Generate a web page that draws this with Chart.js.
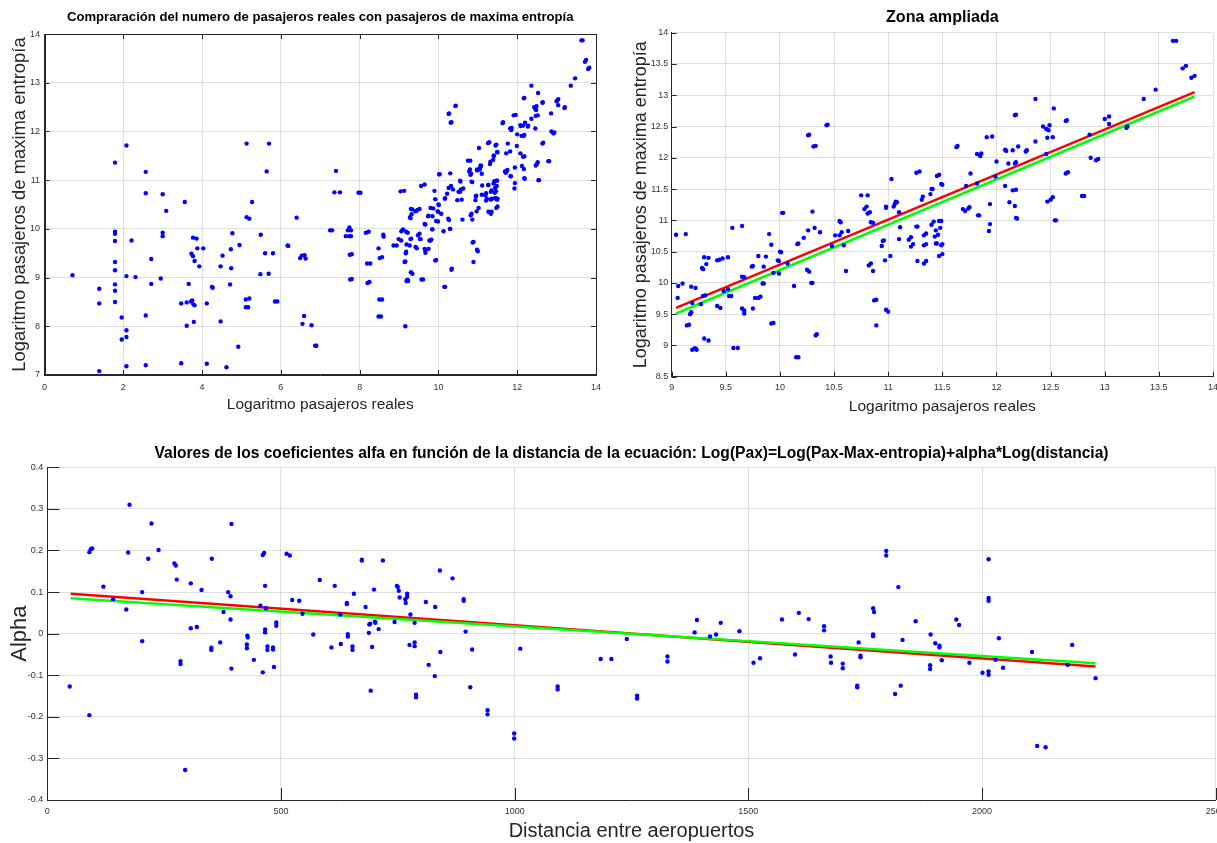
<!DOCTYPE html>
<html>
<head>
<meta charset="utf-8">
<title>Pasajeros reales, maxima entropia y coeficientes alfa</title>
<script src="https://cdn.jsdelivr.net/npm/chart.js@4.4.1/dist/chart.umd.min.js"></script>
<style>
	html, body { margin: 0; padding: 0; background: #fff; overflow: hidden; width: 1217px; height: 843px; }
	canvas { position: absolute; }
</style>
</head>
<body>
<canvas id="chartComparacion" width="612" height="422" style="left:0;top:0"></canvas>
<canvas id="chartZona" width="630" height="422" style="left:612px;top:0"></canvas>
<canvas id="chartAlpha" width="1240" height="423" style="left:0;top:420px"></canvas>
<script>
// Valores.
// Logaritmo de pasajeros reales (x) y de maxima entropia (y), mismo orden.
var paxReales = [0.71, 1.39, 1.39, 1.39, 1.79, 1.79, 1.79, 1.79, 1.79, 1.79, 1.79, 1.79, 1.79, 1.96, 1.96,
	2.08, 2.08, 2.08, 2.08, 2.08, 2.21, 2.31, 2.57, 2.57, 2.57, 2.57, 2.71, 2.71, 2.95, 3.0, 3.0, 3.0, 3.09,
	3.47, 3.47, 3.56, 3.61, 3.61, 3.66, 3.73, 3.72, 3.75, 3.77, 3.77, 3.78, 3.81, 3.79, 3.81, 3.86, 3.88, 3.93,
	4.03, 4.12, 4.12, 4.25, 4.27, 4.47, 4.47, 4.52, 4.62, 4.71, 4.73, 4.74, 4.77, 4.92, 4.95, 5.13, 5.13, 5.2,
	5.11, 5.2, 5.11, 5.17, 5.27, 5.48, 5.49, 5.6, 5.64, 5.69, 5.7, 5.8, 5.85, 5.91, 6.17, 6.19, 6.4, 6.49,
	6.53, 6.6, 6.63, 6.55, 6.59, 6.78, 6.87, 6.9, 7.25, 7.3, 7.36, 7.4, 7.5, 7.65, 7.74, 7.78, 7.7, 7.74,
	7.78, 7.75, 7.8, 7.76, 7.8, 7.97, 8.02, 8.16, 8.23, 8.19, 8.27, 8.2, 8.25, 8.48, 8.51, 8.57, 8.5, 8.57,
	8.48, 8.54, 8.6, 8.61, 8.86, 8.94, 8.99, 9.16,
	9.04, 9.055, 9.06, 9.1, 9.13, 9.14, 9.16, 9.17, 9.18, 9.18, 9.19, 9.19, 9.21, 9.22, 9.23, 9.22, 9.27,
	9.28, 9.29, 9.29, 9.3, 9.3, 9.32, 9.31, 9.34, 9.34, 9.42, 9.45, 9.42, 9.44, 9.47, 9.48, 9.52, 9.52, 9.53,
	9.55, 9.56, 9.57, 9.61, 9.65, 9.65, 9.67, 9.65, 9.67, 9.67, 9.74, 9.75, 9.75, 9.77, 9.8, 9.82, 9.8, 9.84,
	9.85, 9.85, 9.87, 9.9, 9.92, 9.92, 9.94, 9.94, 9.98, 9.99, 9.99, 10.0, 10.01, 10.02, 10.03, 10.07, 10.13,
	10.15, 10.17, 10.16, 10.17, 10.22, 10.25, 10.27, 10.26, 10.26, 10.27, 10.29, 10.3, 10.3, 10.31, 10.33,
	10.32, 10.33, 10.34, 10.37, 10.43, 10.44, 10.48, 10.51, 10.55, 10.55, 10.56, 10.57, 10.59, 10.61, 10.63,
	10.75, 10.78, 10.8, 10.81, 10.81, 10.83, 10.82, 10.84, 10.84, 10.86, 10.86, 10.87, 10.89, 10.89, 10.94,
	10.95, 10.96, 10.97, 10.98, 10.98, 10.98, 11.0, 11.02, 11.03, 11.05, 11.06, 11.07, 11.08, 11.1, 11.1, 11.11,
	11.19, 11.21, 11.21, 11.23, 11.26, 11.29, 11.26, 11.27, 11.27, 11.31, 11.32, 11.33, 11.35, 11.33, 11.35,
	11.33, 11.35, 11.39, 11.4, 11.41, 11.4, 11.42, 11.43, 11.44, 11.45, 11.44, 11.45, 11.47, 11.46, 11.47,
	11.49, 11.48, 11.47, 11.5, 11.49, 11.5, 11.49, 11.5, 11.63, 11.64, 11.69, 11.71, 11.72, 11.74, 11.75,
	11.76, 11.82, 11.85, 11.86, 11.82, 11.83, 11.84, 11.91, 11.93, 11.94, 11.94, 11.96, 11.99, 12.0, 12.08,
	12.09, 12.08, 12.11, 12.12, 12.15, 12.15, 12.17, 12.18, 12.17, 12.18, 12.17, 12.18, 12.18, 12.19, 12.2,
	12.27, 12.28, 12.36, 12.36, 12.43, 12.46, 12.48, 12.47, 12.46, 12.47, 12.49, 12.5, 12.52, 12.53, 12.52,
	12.54, 12.55, 12.64, 12.65, 12.64, 12.66, 12.79, 12.81, 12.86, 12.87, 12.92, 12.94, 13.0, 13.04, 13.04,
	13.2, 13.21, 13.36, 13.47, 13.63, 13.66, 13.72, 13.75, 13.8, 13.83];
var paxMaxEntropia = [9.05, 8.77, 8.47, 7.08, 11.36, 9.94, 9.9, 9.75, 9.32, 9.15, 8.86, 8.73, 8.5, 8.18, 7.73,
	11.71, 9.03, 7.92, 7.78, 7.18, 9.76, 9.01, 11.17, 10.73, 8.22, 7.2, 9.38, 8.87, 8.98, 10.71, 9.92, 9.85, 10.37,
	8.47, 7.24, 10.55, 8.49, 8.01, 8.87, 9.49, 8.51, 8.53, 9.82, 9.44, 8.45, 8.43, 8.09, 9.34, 9.8, 9.6, 9.23,
	9.6, 8.47, 7.23, 8.81, 8.79, 9.23, 8.1, 9.45, 7.16, 8.86, 9.58, 9.19, 9.91, 7.58, 9.67, 11.75, 10.24, 10.21,
	8.55, 8.57, 8.39, 8.39, 10.55, 9.07, 9.88, 9.5, 11.18, 9.08, 11.75, 9.5, 8.51, 8.51, 9.66, 9.65, 10.23, 9.4,
	9.45, 9.46, 9.39, 8.05, 8.21, 8.02, 7.6, 7.6, 9.97, 9.97, 10.75, 11.19, 10.75, 9.85, 9.85, 9.85, 9.97, 10.03,
	9.97, 9.47, 9.48, 8.96, 8.97, 10.74, 10.74, 9.92, 9.94, 9.29, 9.29, 8.89, 8.91, 9.6, 9.4, 9.42, 8.55, 8.55,
	8.2, 8.2, 9.88, 9.84, 9.66, 9.66, 9.79, 8.0,
	10.77, 9.76, 9.95, 9.99, 10.78, 9.32, 9.33, 9.5, 9.53, 9.94, 9.68, 8.93, 8.95, 8.95, 8.93, 9.92, 9.66,
	10.24, 10.22, 9.79, 9.11, 10.41, 10.3, 9.8, 10.4, 9.08, 9.63, 9.6, 10.36, 10.37, 10.39, 9.87, 10.41, 9.9, 9.79,
	9.79, 10.88, 8.96, 8.96, 10.91, 10.1, 10.09, 9.59, 9.56, 9.51, 10.26, 10.27, 9.59, 9.76, 9.76, 9.78, 10.43, 9.99,
	9.99, 10.26, 10.42, 10.78, 10.61, 9.35, 9.36, 10.16, 10.36, 10.35, 10.15, 10.5, 10.49, 11.12, 11.12, 10.31, 9.95,
	8.81, 8.81, 10.62, 10.63, 10.72, 10.21, 10.18, 10.84, 12.36, 12.37, 10.0, 10.0, 11.14, 12.18, 12.19,
	10.88, 9.16, 9.18, 10.81, 12.52, 12.53, 10.59, 10.76, 10.76, 10.99, 10.97, 10.81, 10.6, 10.19, 10.83,
	11.4, 11.18, 11.22, 11.4, 11.11, 11.13, 10.28, 10.31, 10.97, 10.96, 10.19, 9.72, 9.73, 9.32, 10.59,
	10.67, 10.68, 10.36, 11.22, 11.2, 9.57, 9.54, 10.43, 11.66, 11.22, 11.26, 11.3, 11.29, 11.13, 10.7, 10.89,
	10.69, 10.73, 10.58, 10.62, 11.76, 11.78, 10.9, 10.9, 10.35, 11.33, 11.38, 10.31, 10.35, 10.76, 10.79,
	10.6, 10.62, 11.42, 11.5, 11.5, 10.93, 10.98, 10.74, 10.63, 10.63, 10.84, 11.71, 11.73, 10.77, 10.99,
	10.99, 10.88, 10.43, 10.46, 10.6, 10.62, 11.58, 11.57, 12.17, 12.19, 11.18, 11.15, 11.55, 11.19, 11.21,
	11.75, 12.06, 12.03, 12.07, 11.59, 11.08, 11.08, 12.33, 10.83, 11.26, 10.94, 12.34, 11.7, 11.94, 12.13,
	12.11, 11.55, 11.91, 11.29, 11.48, 12.12, 12.68, 12.69, 11.91, 11.93, 11.23, 11.49, 11.04, 11.03, 12.18,
	12.1, 12.12, 12.94, 12.26, 12.5, 12.46, 12.44, 12.32, 12.06, 11.3, 12.52, 11.33, 11.37, 12.79, 12.33,
	11.0, 11.0, 12.59, 12.6, 11.75, 11.77, 11.39, 11.39, 12.37, 12.0, 11.96, 11.98, 12.62, 12.54, 12.66,
	12.48, 12.5, 12.94, 13.09, 13.87, 13.87, 13.43, 13.47, 13.28, 13.31];

// Rectas de ajuste de la zona ampliada (extremos)
var zonaAjusteX = [9.04, 13.83];
var zonaRojoY = [9.6, 13.05];
var zonaVerdeY = [9.51, 12.98];

// Distancia entre aeropuertos y coeficiente alfa, mismo orden
var distancias = [48, 90, 93, 96, 90, 120, 141, 169, 173, 176, 203, 203, 216, 223, 238, 272, 275, 277, 285, 285,
	295, 307, 307, 320, 330, 352, 351, 351, 370, 377, 387, 392, 394, 392, 394, 428, 429, 427, 427, 442, 456,
	461, 461, 464, 466, 468, 466, 466, 471, 471, 483, 483, 485, 490, 490, 512, 519, 524, 539, 546, 569, 583,
	608, 615, 627, 628, 641, 641, 643, 643, 653, 653, 656, 673, 673, 681, 688, 689, 691, 692, 695, 699, 701,
	702, 709, 718, 743, 748, 750, 752, 754, 766, 767, 770, 770, 777, 775, 786, 786, 786, 789, 789, 810, 816,
	830, 829, 840, 841, 867, 891, 891, 895, 905, 909, 942, 942, 999, 999, 1012, 1092, 1092, 1184, 1207, 1240,
	1262, 1262, 1327, 1327, 1385, 1390, 1418, 1431, 1441, 1481, 1511, 1525, 1572, 1600, 1608, 1629, 1662,
	1662, 1676, 1677, 1702, 1702, 1733, 1733, 1736, 1740, 1740, 1767, 1767, 1767, 1769, 1795, 1795, 1814,
	1821, 1826, 1830, 1858, 1889, 1889, 1890, 1900, 1909, 1909, 1914, 1945, 1951, 1973, 2001, 2014, 2014,
	2014, 2014, 2014, 2029, 2036, 2045, 2107, 2118, 2136, 2183, 2193, 2243];
var alphas = [-0.127, 0.196, 0.203, 0.205, -0.196, 0.113, 0.083, 0.058, 0.195, 0.31, 0.1, -0.018, 0.18, 0.265,
	0.201, 0.169, 0.164, 0.13, -0.066, -0.073, -0.328, 0.121, 0.013, 0.016, 0.105, 0.18, -0.034, -0.039, -0.021,
	0.052, 0.1, 0.09, 0.264, 0.034, -0.084, -0.005, -0.009, -0.026, -0.035, -0.063, 0.067, -0.093, 0.189, 0.194,
	0.115, 0.061, 0.01, 0.003, -0.031, -0.039, -0.033, -0.038, -0.08, 0.027, 0.019, 0.192, 0.188, 0.081, 0.079,
	0.048, -0.002, 0.129, -0.033, 0.115, 0.046, -0.025, 0.074, 0.071, -0.001, -0.007, -0.031, -0.039, 0.096,
	0.178, 0.176, 0.064, 0.002, 0.022, 0.024, -0.137, -0.032, 0.106, 0.029, 0.026, 0.011, 0.176, 0.028, 0.115,
	0.112, 0.103, 0.087, 0.083, 0.074, 0.096, 0.089, 0.046, -0.027, 0.026, -0.021, -0.03, -0.147, -0.153, 0.076,
	-0.075, 0.064, -0.102, 0.152, -0.044, 0.133, 0.083, 0.079, 0.005, -0.129, -0.038, -0.184, -0.194, -0.24,
	-0.252, -0.036, -0.127, -0.134, -0.061, -0.061, -0.013, -0.149, -0.156, -0.055, -0.067, 0.003, 0.033,
	-0.007, -0.002, 0.026, 0.006, -0.07, -0.059, 0.034, -0.05, 0.05, 0.035, 0.018, 0.008, -0.055, -0.07,
	-0.072, -0.083, -0.125, -0.129, -0.021, -0.053, -0.057, -0.002, -0.006, 0.061, 0.052, 0.199, 0.188,
	-0.145, 0.112, -0.125, -0.015, 0.03, -0.076, -0.085, -0.002, -0.023, -0.029, -0.033, -0.064, 0.034,
	0.021, -0.07, -0.094, -0.091, -0.099, 0.179, 0.086, 0.079, -0.063, -0.011, -0.082, -0.044, -0.27,
	-0.273, -0.075, -0.027, -0.107];

// Rectas de ajuste alfa-distancia (extremos)
var alphaAjusteX = [50, 2243];
var alphaRojoY = [0.096, -0.079];
var alphaVerdeY = [0.085, -0.071];

(function() {
	'use strict';
	var fuente = "'Liberation Sans', Arial, Helvetica, sans-serif";
	var colorRejilla = 'rgba(38,38,38,0.15)';
	var colorEje = '#262626';

	Chart.defaults.font.family = fuente;
	Chart.defaults.color = '#333';

	function toPoints(xs, ys) {
		return xs.map(function(x, i) {
			return { x : x, y : ys[i] };
		});
	}

	// etiquetas sin ceros sobrantes ni separador de miles (como matlab)
	function etiqueta(value) {
		return String(Math.round(value * 1000) / 1000);
	}

	// marcas de los ejes hacia dentro, estilo matlab
	var marcasInteriores = {
		id : 'marcasInteriores',
		afterDatasetsDraw : function(chart, args, opts) {
			var ctx = chart.ctx;
			var area = chart.chartArea;
			var len = opts.length || 5;
			var sx = chart.scales.x, sy = chart.scales.y;
			ctx.save();
			ctx.strokeStyle = colorEje;
			ctx.lineWidth = 1;
			ctx.beginPath();
			sx.ticks.forEach(function(t, i) {
				var px = Math.round(sx.getPixelForTick(i)) + 0.5;
				ctx.moveTo(px, area.bottom);
				ctx.lineTo(px, area.bottom - len);
				if (opts.box) {
					ctx.moveTo(px, area.top);
					ctx.lineTo(px, area.top + len);
				}
			});
			sy.ticks.forEach(function(t, i) {
				var py = Math.round(sy.getPixelForTick(i)) + 0.5;
				ctx.moveTo(area.left, py);
				ctx.lineTo(area.left + len, py);
				if (opts.box) {
					ctx.moveTo(area.right, py);
					ctx.lineTo(area.right - len, py);
				}
			});
			ctx.stroke();
			if (opts.box) {
				ctx.strokeRect(Math.round(area.left) + 0.5, Math.round(area.top) + 0.5,
						Math.round(area.width) - 1, Math.round(area.height) - 1);
			}
			ctx.restore();
		}
	};

	function escala(min, max, paso, titulo, cfg) {
		return {
			type : 'linear',
			min : min,
			max : max,
			ticks : {
				stepSize : paso,
				padding : cfg.tickPad,
				font : { size : 9 },
				color : '#333',
				maxRotation : 0,
				autoSkip : false,
				callback : etiqueta
			},
			grid : { color : colorRejilla, drawTicks : false },
			border : { display : true, color : colorEje, width : 1 },
			title : {
				display : true,
				text : titulo,
				color : colorEje,
				font : { size : cfg.titleSize, family : fuente },
				padding : cfg.titlePad
			},
			afterFit : function(scale) {
				if (cfg.width) {
					scale.width = cfg.width;
				}
				if (cfg.height) {
					scale.height = cfg.height;
				}
			}
		};
	}

	function opciones(titulo, tituloSize, tituloPad, padding, xScale, yScale, marcas) {
		return {
			responsive : false,
			animation : false,
			events : [],
			layout : { padding : padding },
			scales : { x : xScale, y : yScale },
			plugins : {
				legend : { display : false },
				tooltip : { enabled : false },
				title : {
					display : true,
					text : titulo,
					fullSize : false,
					color : '#000',
					font : { family : fuente, size : tituloSize, weight : 'bold' },
					padding : tituloPad
				},
				marcasInteriores : marcas
			}
		};
	}

	function puntos(data) {
		return {
			data : data,
			pointRadius : 2.2,
			pointBorderWidth : 0,
			pointBackgroundColor : '#0000ff',
			showLine : false
		};
	}

	function recta(xs, ys, color) {
		return {
			data : toPoints(xs, ys),
			showLine : true,
			borderColor : color,
			borderWidth : 2.6,
			pointRadius : 0,
			fill : false
		};
	}

	var puntosComparacion = toPoints(paxReales, paxMaxEntropia);
	var puntosZona = puntosComparacion.filter(function(p) {
		return p.x >= 9 && p.y >= 8.5;
	});

	new Chart(document.getElementById('chartComparacion'), {
		type : 'scatter',
		data : { datasets : [ puntos(puntosComparacion) ] },
		plugins : [ marcasInteriores ],
		options : opciones(
				'Compraración del numero de pasajeros reales con pasajeros de maxima entropía',
				13.1, { top : 0, bottom : 8.3 },
				{ left : 0, top : 10, right : 16, bottom : 0 },
				escala(0, 14, 2, 'Logaritmo pasajeros reales',
						{ tickPad : 7, titleSize : 15.5, titlePad : { top : 0, bottom : 8 }, height : 47 }),
				escala(7, 14, 1, 'Logaritmo pasajeros de maxima entropía',
						{ tickPad : 4.5, titleSize : 18.4, titlePad : { top : 9, bottom : 0 }, width : 44.5 }),
				{ length : 5, box : true })
	});

	new Chart(document.getElementById('chartZona'), {
		type : 'scatter',
		data : {
			datasets : [ puntos(puntosZona),
					recta(zonaAjusteX, zonaVerdeY, '#00ff00'),
					recta(zonaAjusteX, zonaRojoY, '#ff0000') ]
		},
		plugins : [ marcasInteriores ],
		options : opciones('Zona ampliada', 16.1, { top : 8.3, bottom : 5.1 },
				{ left : 0, top : 0, right : 29, bottom : 0 },
				escala(9, 14, 0.5, 'Logaritmo pasajeros reales',
						{ tickPad : 5.5, titleSize : 15.5, titlePad : { top : 0, bottom : 6 }, height : 45.3 }),
				escala(8.5, 14, 0.5, 'Logaritmo pasajeros de maxima entropía',
						{ tickPad : 3.5, titleSize : 18, titlePad : { top : 18, bottom : 0 }, width : 59.7 }),
				{ length : 5, box : false })
	});

	new Chart(document.getElementById('chartAlpha'), {
		type : 'scatter',
		data : {
			datasets : [ puntos(toPoints(distancias, alphas)),
					recta(alphaAjusteX, alphaVerdeY, '#00ff00'),
					recta(alphaAjusteX, alphaRojoY, '#ff0000') ]
		},
		plugins : [ marcasInteriores ],
		options : opciones(
				'Valores de los coeficientes alfa en función de la distancia de la ecuación: Log(Pax)=Log(Pax-Max-entropia)+alpha*Log(distancia)',
				15.6, { top : 24, bottom : 4.6 },
				{ left : 0, top : 0, right : 24.3, bottom : 0 },
				escala(0, 2500, 500, 'Distancia entre aeropuertos',
						{ tickPad : 6, titleSize : 20, titlePad : { top : 0, bottom : 0 }, height : 43 }),
				escala(-0.4, 0.4, 0.1, 'Alpha',
						{ tickPad : 4, titleSize : 22, titlePad : { top : 7, bottom : 0 }, width : 47.3 }),
				{ length : 12, box : false })
	});
})();
</script>
</body>
</html>
